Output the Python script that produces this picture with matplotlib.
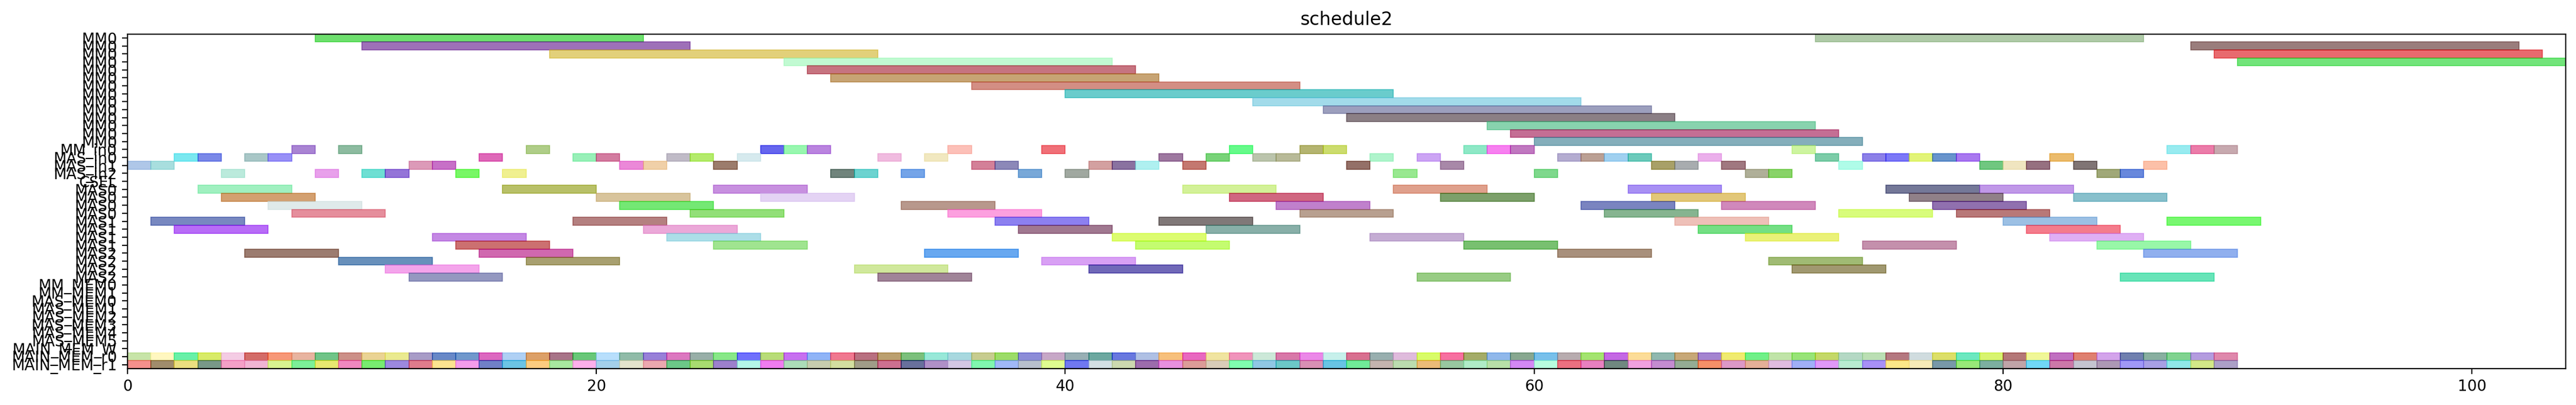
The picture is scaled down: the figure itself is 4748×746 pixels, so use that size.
import matplotlib
matplotlib.use("Agg")
import matplotlib.pyplot as plt
from matplotlib.colors import to_rgb

# row names, top to bottom
row_labels = (
    ["MM0"] * 14
    + ["MM_in0", "MAS_in0", "MAS_in1", "MAS_in2", "CSEL"]
    + ["MAS0"] * 4 + ["MAS1"] * 4 + ["MAS2"] * 4
    + ["MM_MEM0", "MM_MEM1"]
    + ["MAS_MEM0", "MAS_MEM1", "MAS_MEM2", "MAS_MEM3", "MAS_MEM4", "MAS_MEM5"]
    + ["MAIN_MEM_W", "MAIN_MEM_r0", "MAIN_MEM_r1"]
)

# long MM0 jobs
mm_row = [0, 0, 1, 1, 2, 2, 3, 3, 4, 5, 6, 7, 8, 9, 10, 11, 12, 13]
mm_start = [8, 72, 10, 88, 18, 89, 28, 90, 29, 30, 36, 40, 48, 51, 52, 58, 59, 60]
mm_end = [22, 86, 24, 102, 32, 103, 42, 104, 43, 44, 50, 54, 62, 65, 66, 72, 73, 74]

# one-slot jobs on the input rows
in_row = (
    [14] * 18
    + [15] * 30
    + [16] * 24
    + [17] * 17
)
in_start = (
    [7, 9, 17, 27, 28, 29, 35, 39, 47, 50, 51, 57, 58, 59, 71, 87, 88, 89]
    + [2, 3, 5, 6, 15, 19, 20, 23, 24, 26, 32, 34, 44, 46, 48, 49, 53, 55,
       61, 62, 63, 64, 67, 72, 74, 75, 76, 77, 78, 82]
    + [0, 1, 12, 13, 21, 22, 25, 36, 37, 41, 42, 43, 45, 52, 56, 65, 66, 68,
       73, 79, 80, 81, 83, 86]
    + [4, 8, 10, 11, 14, 16, 30, 31, 33, 38, 40, 54, 60, 69, 70, 84, 85]
)

# four-slot jobs on the MAS rows
mas_row = (
    [19] * 8 + [20] * 8 + [21] * 7 + [22] * 7 + [23] * 7 + [24] * 6
    + [25] * 6 + [26] * 6 + [27] * 5 + [28] * 4 + [29] * 4 + [30] * 4
)
mas_start = [
    3, 16, 25, 45, 54, 64, 75, 79,
    4, 20, 27, 47, 56, 65, 76, 83,
    6, 21, 33, 49, 62, 68, 77,
    7, 24, 35, 50, 63, 73, 78,
    1, 19, 37, 44, 66, 80, 87,
    2, 22, 38, 46, 67, 81,
    13, 23, 42, 53, 69, 82,
    14, 25, 43, 57, 74, 84,
    5, 15, 34, 61, 86,
    9, 17, 39, 70,
    11, 31, 41, 71,
    12, 32, 55, 85,
]
mas_end = [
    7, 20, 29, 49, 58, 68, 79, 83,
    8, 24, 31, 51, 60, 69, 80, 87,
    10, 25, 37, 53, 66, 72, 81,
    11, 28, 39, 54, 67, 77, 82,
    5, 23, 41, 48, 70, 84, 91,
    6, 26, 42, 50, 71, 85,
    17, 27, 46, 57, 73, 86,
    18, 29, 47, 61, 78, 88,
    9, 19, 38, 65, 90,
    13, 21, 43, 74,
    15, 35, 45, 75,
    16, 36, 59, 89,
]

# main memory read slots (rows MAIN_MEM_r0 and MAIN_MEM_r1)
mem_start = [
    0, 1, 2, 3, 4, 5, 6, 7, 8, 9, 10, 11, 12, 13, 14, 15, 16, 17, 18, 19,
    20, 21, 22, 23, 24, 25, 26, 27, 28, 29, 30, 31, 32, 33, 34, 35, 36, 37,
    38, 39, 40, 41, 42, 43, 44, 45, 46, 47, 48, 49, 50, 51, 52, 53, 54, 55,
    56, 57, 58, 59, 60, 61, 62, 63, 64, 65, 66, 67, 68, 69, 70, 71, 72, 73,
    74, 75, 76, 77, 78, 79, 80, 81, 82, 83, 84, 85, 86, 87, 88, 89,
]
SLOT = 1

# colours as they look on the white background
mm_color = ["#6ee06e", "#b0cba8", "#9e70b8", "#9a7d7c", "#e2d07a", "#e86a6e",
            "#c2fad2", "#72e47a", "#c67480", "#c8a474", "#d48e84", "#6acccc",
            "#a2dbea", "#9c9fbd", "#8b7f85", "#88d4ae", "#c46e94", "#84aebc"]
in_color = [
    "#a984d4", "#8dbba0", "#b0cd88", "#6666ee", "#98f8b0", "#ba84e0", "#fcc0b8",
    "#f07078", "#66fa8a", "#b4b470", "#ccdc6e", "#8ee8c6", "#f880f0", "#c078c0",
    "#cef4a0", "#98ecf0", "#ec7caa", "#c8aab0",
    "#7ae8f0", "#7a88e8", "#aac8c8", "#9890f8", "#de68b8", "#98f0b8", "#d47ca0",
    "#c0bcc8", "#b4ec6c", "#d6eaee", "#f0bce0", "#f2e8c0", "#9e78a0", "#78d478",
    "#bcc4ac", "#b8ba98", "#b0f4cc", "#cca4f4", "#b4acd0", "#bca094", "#a0d0f0",
    "#6ccabc", "#ecb0ec", "#7ccca8", "#8c80e8", "#7c78f8", "#e2f478", "#6894cc",
    "#aa78f0", "#ecbc6c",
    "#b0c8e8", "#a8dede", "#dc9ab8", "#c870c8", "#ec88d8", "#f0d0a8", "#9c7c6c",
    "#d48098", "#8c88b8", "#d4a0a0", "#8a72a0", "#b0f0f0", "#c47870", "#947068",
    "#a888a8", "#a8a068", "#a8acb0", "#a07880", "#b0fce8", "#70c880", "#f0e6c0",
    "#967080", "#807474", "#fcc0a8",
    "#bceadc", "#e8a0ec", "#6ee0d4", "#9474d8", "#78f860", "#f0f090", "#70847c",
    "#6cd4d0", "#74a4e8", "#78a8d8", "#a0a8a0", "#98e890", "#7ed88c", "#b0b098",
    "#88d468", "#a0a878", "#6888dc",
]
mas_color = [
    "#a0f0c0", "#b8c068", "#c890e0", "#d4f298", "#e0a08c", "#a890f4", "#747898", "#c098e8",
    "#d4a070", "#d8c49c", "#e4d4f4", "#d06080", "#7ca06a", "#e2c878", "#908088", "#88c0cc",
    "#e0eaea", "#74e874", "#b8988c", "#c080cc", "#7a84c0", "#d088bc", "#9070b0",
    "#e68e9c", "#92e078", "#fca0e0", "#b8a090", "#86b490", "#d8fc7c", "#b87878",
    "#7888c0", "#b48080", "#8c80f0", "#807878", "#eec0b8", "#9cc0e4", "#78f870",
    "#b86cf8", "#eca8d8", "#a07890", "#88b0a8", "#74e084", "#f47c8c",
    "#c488e4", "#acdee8", "#dcfc70", "#c4acd4", "#eaf278", "#e0b0f4",
    "#cc7070", "#a0e490", "#c4fc70", "#78c070", "#c490ac", "#98f8a8",
    "#9c7c70", "#d068b0", "#68a8f0", "#a8907c", "#90b0ee",
    "#6890bc", "#a8a070", "#d8a0f4", "#a0bc74",
    "#f4a4ec", "#d0e89c", "#7068b8", "#a09870",
    "#9498c0", "#a08498", "#98cc84", "#68e4b8",
]
r0_color = [
    "#c8e4a8", "#fff8c0", "#68f0a8", "#d8ec68", "#f4cce4", "#d46c68", "#f89878",
    "#e8b4a0", "#70c488", "#cc9088", "#ead494", "#eaea90", "#a89cc8", "#6888c8",
    "#7098cc", "#dc68c0", "#b0d0f4", "#dca068", "#a87488", "#68c878", "#b8e0fc",
    "#90bca8", "#9880d8", "#dc78c0", "#98b0a8", "#88e888", "#7070fc", "#b8dc78",
    "#c870f0", "#90b4f8", "#f07890", "#b87080", "#bca070", "#7cc07c", "#98e8d8",
    "#a8d8e0", "#c8cc90", "#9cdc68", "#8c8cd8", "#c8a8c8", "#98b0b4", "#6ca8a0",
    "#6878e0", "#b0c0e4", "#f8c07c", "#e868c0", "#f0e4a0", "#f094bc", "#cce8d8",
    "#d878a8", "#ec88e8", "#c8f0ec", "#d87090", "#98b0b0", "#e0bcdc", "#d8fc68",
    "#f870a0", "#a4ac68", "#90b8ec", "#88a890", "#78c0ec", "#b8acb0", "#a4e470",
    "#c468e4", "#fcdc98", "#90b8b0", "#c8a878", "#a484d0", "#f0ec70", "#70f088",
    "#c0e4a8", "#98e478", "#c4d868", "#b4d8c4", "#bce0b4", "#b47880", "#d0dce0",
    "#dce068", "#6ce8c0", "#d8f470", "#b47878", "#f0f898", "#c070c0", "#e08070",
    "#d4a4ec", "#7080b0", "#88b0a0", "#80d490", "#b49ce0", "#e088ac",
]
r1_color = [
    "#f4908c", "#a08c6c", "#ece080", "#789888", "#f4a0c8", "#f0b4d4", "#d8f490",
    "#7cf098", "#e8e870", "#f088c0", "#78ec70", "#9c88e0", "#e07c8c", "#fce490",
    "#f49cec", "#7080c8", "#6cc4e4", "#fccc80", "#a8e8a0", "#fcb0ec", "#a4d0ec",
    "#e4e4cc", "#eca8b0", "#6cc888", "#a8dc70", "#9c80cc", "#b4f8e8", "#f07cf0",
    "#acdcb8", "#c8ccb0", "#d4e0a0", "#a09c88", "#cc7090", "#68709c", "#b090c8",
    "#d4c8e4", "#80f8b0", "#a0b8f8", "#b8c0cc", "#e0fc90", "#7078f0", "#d4e0e4",
    "#ccd8b0", "#9c6cac", "#e890e0", "#dc9c98", "#d8ccb8", "#80fcb0", "#90c8e4",
    "#6cc8c8", "#d890b4", "#68c4e4", "#70ec98", "#c4b4b0", "#bcdcb0", "#ecbc78",
    "#98c8a0", "#b0ecc8", "#b8e0a8", "#d488f4", "#b8fce0", "#ec7080", "#e880c0",
    "#708880", "#f0a0e0", "#c48cd0", "#94ac94", "#f49068", "#dc98c8", "#e4b098",
    "#e0bce0", "#a0b0f8", "#e098f8", "#b8ecd0", "#a890f8", "#fce888", "#f8ecb8",
    "#7898a8", "#98e878", "#7cb0a0", "#c0a4a8", "#70d8f8", "#cc78a8", "#c4c4d0",
    "#ac98b4", "#a098f8", "#a8a0e4", "#90e8e8", "#d4e888", "#aca0c8",
]

ALPHA = 0.6


def base_colour(hex_code):
    # undo the alpha blend so the bar looks like the sampled colour
    return tuple(min(1.0, max(0.0, 1 - (1 - c) / ALPHA)) for c in to_rgb(hex_code))


def draw(ax, rows, starts, widths, colours):
    cols = [base_colour(c) for c in colours]
    ax.barh(rows, widths, left=starts, height=1.0, color=cols,
            edgecolor=cols, linewidth=0.6, alpha=ALPHA)


fig = plt.figure(figsize=(23.74, 3.73), dpi=200)
ax = fig.add_axes([0.0495, 0.0898, 0.9465, 0.8262])

draw(ax, mm_row, mm_start, [e - s for s, e in zip(mm_start, mm_end)], mm_color)
draw(ax, in_row, in_start, [SLOT] * len(in_start), in_color)
draw(ax, mas_row, mas_start, [e - s for s, e in zip(mas_start, mas_end)], mas_color)
draw(ax, [40] * len(mem_start), mem_start, [SLOT] * len(mem_start), r0_color)
draw(ax, [41] * len(mem_start), mem_start, [SLOT] * len(mem_start), r1_color)

ax.set_yticks(range(len(row_labels)))
ax.set_yticklabels(row_labels, fontsize=10)
ax.set_ylim(len(row_labels) - 0.5, -0.5)
ax.set_xlim(0, 104)
ax.set_xticks([0, 20, 40, 60, 80, 100])
ax.tick_params(axis="x", labelsize=10)
ax.set_title("schedule2", fontsize=12)

fig.savefig("out.png", dpi=200)
